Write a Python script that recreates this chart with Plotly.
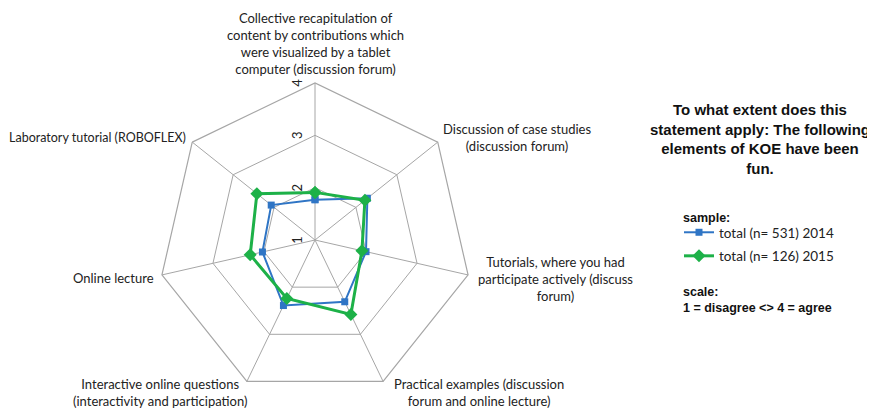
import plotly.graph_objects as go

# Die Seite hat 8px Rand (body margin), daher ist die Figur 8px kleiner
W, H = 867, 400
OFF = 8

# Achsen (im Uhrzeigersinn ab oben)
categories = [
    "Collective recapitulation",
    "Discussion of case studies",
    "Tutorials",
    "Practical examples",
    "Interactive online questions",
    "Online lecture",
    "Laboratory tutorial",
]
values_2014 = [1.77, 2.28, 2.00, 2.31, 2.39, 2.03, 2.07]
values_2015 = [1.91, 2.22, 1.92, 2.58, 2.24, 2.27, 2.42]
radial_ticks = [1, 2, 3, 4]

axis_labels = [
    "Collective recapitulation of<br>content by contributions which<br>were visualized by a tablet<br>computer (discussion forum)",
    "Discussion of case studies<br>(discussion forum)",
    "Tutorials, where you had<br>participate actively (discuss<br>forum)",
    "Practical examples (discussion<br>forum and online lecture)",
    "Interactive online questions<br>(interactivity and participation)",
    "Online lecture",
    "Laboratory tutorial (ROBOFLEX)",
]

BLUE = "#2F75C5"
GREEN = "#1DB148"
GRID = "#A6A6A6"
BOLD_FONT = dict(family="Liberation Sans", size=12.5, color="#111111")


def px(x):
    # Pixel im Screenshot -> paper-Koordinate
    return (x - OFF) / W


def py(y):
    return 1 - (y - OFF) / H


fig = go.Figure()

fig.add_trace(go.Scatterpolar(
    r=values_2014 + values_2014[:1],
    theta=categories + categories[:1],
    mode="lines+markers",
    name="total (n= 531) 2014",
    line=dict(color=BLUE, width=2),
    marker=dict(symbol="square", size=7, color=BLUE),
    legendgroup="a",
))
fig.add_trace(go.Scatterpolar(
    r=values_2015 + values_2015[:1],
    theta=categories + categories[:1],
    mode="lines+markers",
    name="total (n= 126) 2015",
    line=dict(color=GREEN, width=3),
    marker=dict(symbol="diamond", size=10, color=GREEN),
    legendgroup="b",
))

# Beschriftungen der Achsen (x, y, xanchor, yanchor, Schriftgroesse)
label_pos = [
    (315, 8, "center", "top", 13),
    (517, 138, "center", "middle", 13),
    (555, 279, "center", "middle", 13),
    (479, 392, "center", "middle", 13),
    (160, 392, "center", "middle", 13),
    (156, 278, "right", "middle", 13),
    (188, 138, "right", "middle", 12.5),
]
annotations = []
for text, (x, y, xa, ya, fs) in zip(axis_labels, label_pos):
    annotations.append(dict(
        text=text, x=px(x), y=py(y), xref="paper", yref="paper",
        xanchor=xa, yanchor=ya, showarrow=False, align="center",
        font=dict(family="Lato", size=fs, color="#222222"),
    ))

annotations.append(dict(
    text="<b>To what extent does this<br>statement apply: The following<br>elements of KOE have been<br>fun.</b>",
    x=px(760), y=py(139), xref="paper", yref="paper",
    xanchor="center", yanchor="middle", showarrow=False, align="center",
    font=dict(family="Liberation Sans", size=15, color="#111111"),
))
annotations.append(dict(
    text="<b>sample:</b>",
    x=px(681), y=py(218), xref="paper", yref="paper",
    xanchor="left", yanchor="middle", showarrow=False,
    font=BOLD_FONT,
))
annotations.append(dict(
    text="<b>scale:<br>1 = disagree &lt;&gt; 4 = agree</b>",
    x=px(681), y=py(300), xref="paper", yref="paper",
    xanchor="left", yanchor="middle", showarrow=False, align="left",
    font=BOLD_FONT,
))

fig.update_layout(
    width=W,
    height=H,
    margin=dict(l=0, r=0, t=0, b=0),
    paper_bgcolor="white",
    plot_bgcolor="white",
    polar=dict(
        domain=dict(x=[px(158), px(472)], y=[py(397), py(83)]),
        gridshape="linear",
        bgcolor="white",
        radialaxis=dict(
            range=[1, 4],
            tickvals=radial_ticks,
            angle=90,
            tickangle=0,
            side="counterclockwise",
            showline=False,
            ticks="outside",
            ticklen=7,
            tickcolor="rgba(0,0,0,0)",
            gridcolor=GRID,
            gridwidth=1.2,
            tickfont=dict(family="Lato", size=13, color="#222222"),
        ),
        angularaxis=dict(
            direction="clockwise",
            rotation=90,
            showticklabels=False,
            ticks="",
            linecolor=GRID,
            linewidth=1.2,
            gridcolor=GRID,
            gridwidth=1.2,
        ),
    ),
    showlegend=True,
    legend=dict(
        x=px(679), y=py(217), xanchor="left", yanchor="top",
        font=dict(family="Lato", size=13.5, color="#222222"),
        tracegroupgap=3,
        bgcolor="rgba(0,0,0,0)",
        itemwidth=30,
    ),
    annotations=annotations,
)

fig.write_html("out.html")
